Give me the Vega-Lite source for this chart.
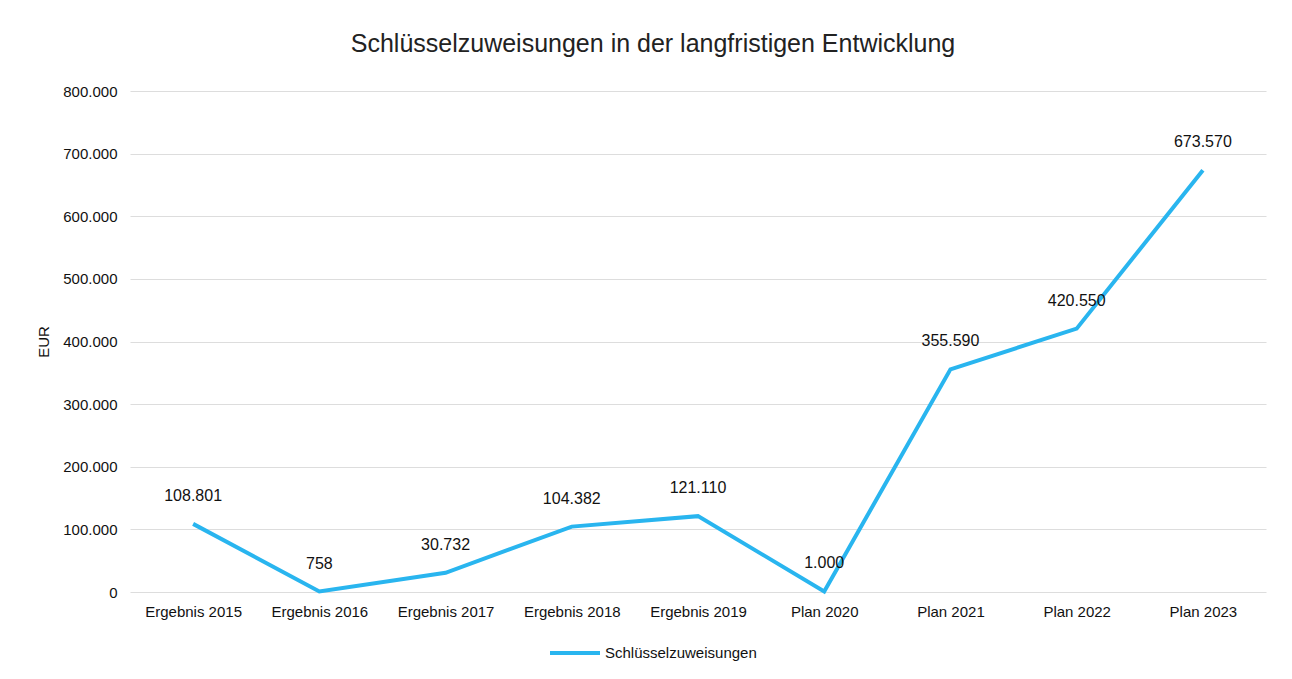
{
  "$schema": "https://vega.github.io/schema/vega-lite/v6.json",
  "autosize": "none",
  "width": 1136,
  "height": 501,
  "padding": {"left": 130, "top": 91, "right": 26, "bottom": 87},
  "background": "white",
  "config": {
    "locale": {"number": {"decimal": ",", "thousands": ".", "grouping": [3], "currency": ["", " €"]}},
    "view": {"stroke": null},
    "font": "Liberation Sans"
  },
  "title": {
    "text": "Schlüsselzuweisungen in der langfristigen Entwicklung",
    "fontSize": 25,
    "fontWeight": "normal",
    "font": "Liberation Sans",
    "color": "#222222",
    "anchor": "middle",
    "dx": -45,
    "offset": 27
  },
  "data": {
    "values": [
      {"Jahr": "Ergebnis 2015", "Wert": 108801, "Serie": "Schlüsselzuweisungen"},
      {"Jahr": "Ergebnis 2016", "Wert": 758, "Serie": "Schlüsselzuweisungen"},
      {"Jahr": "Ergebnis 2017", "Wert": 30732, "Serie": "Schlüsselzuweisungen"},
      {"Jahr": "Ergebnis 2018", "Wert": 104382, "Serie": "Schlüsselzuweisungen"},
      {"Jahr": "Ergebnis 2019", "Wert": 121110, "Serie": "Schlüsselzuweisungen"},
      {"Jahr": "Plan 2020", "Wert": 1000, "Serie": "Schlüsselzuweisungen"},
      {"Jahr": "Plan 2021", "Wert": 355590, "Serie": "Schlüsselzuweisungen"},
      {"Jahr": "Plan 2022", "Wert": 420550, "Serie": "Schlüsselzuweisungen"},
      {"Jahr": "Plan 2023", "Wert": 673570, "Serie": "Schlüsselzuweisungen"}
    ]
  },
  "encoding": {
    "x": {
      "field": "Jahr", "type": "nominal", "sort": null,
      "scale": {"type": "point", "padding": 0.5},
      "axis": {"title": null, "labelAngle": 0, "domain": false, "ticks": false, "labelFontSize": 15, "labelColor": "#111111", "labelPadding": 12, "labelFont": "Liberation Sans"}
    },
    "y": {
      "field": "Wert", "type": "quantitative",
      "scale": {"domain": [0, 800000], "nice": false},
      "axis": {"title": "EUR", "titleFontSize": 15, "titleFontWeight": "normal", "titleColor": "#111111", "titlePadding": 11, "titleFont": "Liberation Sans", "values": [0, 100000, 200000, 300000, 400000, 500000, 600000, 700000, 800000], "format": ",d", "domain": false, "ticks": false, "labelFontSize": 15, "labelColor": "#111111", "labelPadding": 13, "labelFont": "Liberation Sans", "gridColor": "#dddddd", "gridWidth": 1}
    }
  },
  "layer": [
    {
      "mark": {"type": "line", "strokeWidth": 4, "strokeJoin": "miter"},
      "encoding": {
        "color": {
          "field": "Serie", "type": "nominal",
          "scale": {"range": ["#29b5ef"]},
          "legend": {"title": null, "orient": "none", "legendX": 418, "legendY": 535, "symbolType": "stroke", "symbolSize": 2500, "symbolStrokeWidth": 4, "labelFontSize": 15, "labelColor": "#111111", "labelFont": "Liberation Sans", "labelOffset": 3}
        }
      }
    },
    {
      "mark": {"type": "text", "dy": -28, "fontSize": 16, "color": "#111111", "font": "Liberation Sans"},
      "encoding": {"text": {"field": "Wert", "type": "quantitative", "format": ",d"}}
    }
  ]
}
